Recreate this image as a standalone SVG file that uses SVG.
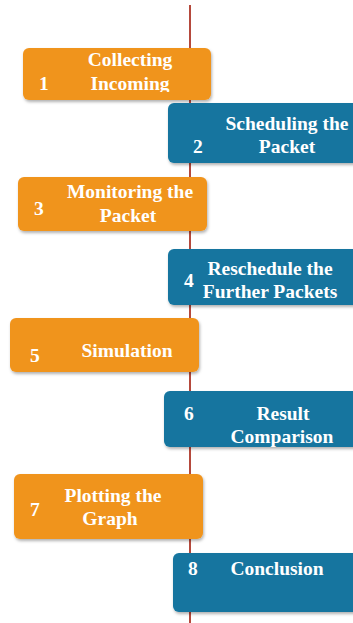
<svg xmlns="http://www.w3.org/2000/svg" width="353" height="623" viewBox="0 0 353 623">
<defs>
<filter id="sh" x="-10%" y="-20%" width="130%" height="150%">
<feDropShadow dx="1" dy="2" stdDeviation="1.5" flood-color="#000" flood-opacity="0.3"/>
</filter>
<clipPath id="clip1"><rect x="23" y="48" width="188" height="44"/></clipPath>
<style>
.o{fill:#f0941f;filter:url(#sh)}
.b{fill:#12749f;filter:url(#sh)}
text{font-family:"Liberation Serif","Times New Roman",serif;font-weight:bold;font-size:19.5px;fill:#fff}
.c{text-anchor:middle}
</style>
</defs>
<g id="connectors">
<line x1="190" y1="5" x2="190" y2="623" stroke="#b5493c" stroke-width="2"/>
</g>
<g id="n1">
<rect class="o" x="23" y="48" width="188" height="52" rx="6"/>
<text x="39" y="90">1</text>
<text class="c" x="130" y="66">Collecting</text>
<text class="c" x="130" y="90" clip-path="url(#clip1)">Incoming</text>
</g>
<g id="n2">
<rect class="b" x="168" y="103" width="195" height="60" rx="6"/>
<text x="193" y="153">2</text>
<text class="c" x="287" y="130">Scheduling the</text>
<text class="c" x="287" y="153">Packet</text>
</g>
<g id="n3">
<rect class="o" x="18" y="177" width="189" height="54" rx="6"/>
<text x="34" y="215">3</text>
<text class="c" x="130" y="198">Monitoring the</text>
<text class="c" x="128" y="222">Packet</text>
</g>
<g id="n4">
<rect class="b" x="168" y="249" width="195" height="56" rx="6"/>
<text x="184" y="287">4</text>
<text class="c" x="270" y="275">Reschedule the</text>
<text class="c" x="270" y="298">Further Packets</text>
</g>
<g id="n5">
<rect class="o" x="10" y="318" width="189" height="54" rx="6"/>
<text x="30" y="362">5</text>
<text class="c" x="127" y="357">Simulation</text>
</g>
<g id="n6">
<rect class="b" x="164" y="391" width="199" height="56" rx="6"/>
<text x="184" y="420">6</text>
<text class="c" x="283" y="420">Result</text>
<text class="c" x="282" y="443">Comparison</text>
</g>
<g id="n7">
<rect class="o" x="14" y="474" width="189" height="65" rx="6"/>
<text x="30" y="516">7</text>
<text class="c" x="113" y="502">Plotting the</text>
<text class="c" x="110" y="525">Graph</text>
</g>
<g id="n8">
<rect class="b" x="173" y="553" width="190" height="59" rx="6"/>
<text x="188" y="575">8</text>
<text class="c" x="277" y="575">Conclusion</text>
</g>
</svg>
